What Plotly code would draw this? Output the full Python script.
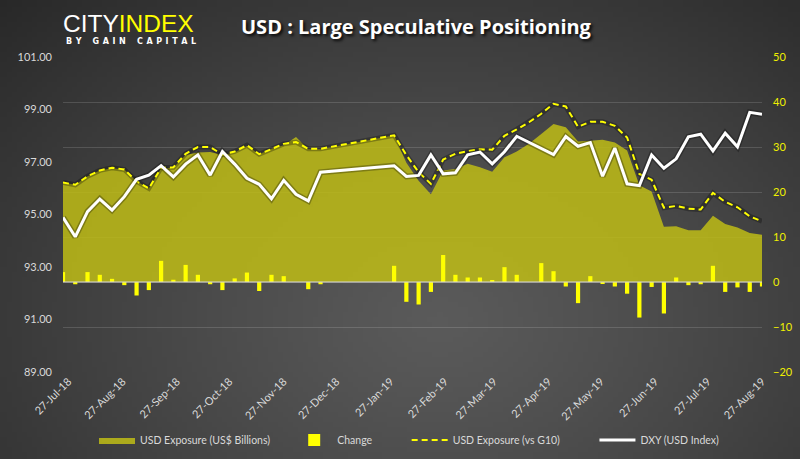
import base64
import math
import struct
import zlib

import pandas as pd
import plotly.graph_objects as go

# ---------------- data ----------------
dates_2018 = pd.date_range("2018-07-24", periods=22, freq="7D")
dates_2019 = pd.date_range("2019-01-29", periods=31, freq="7D")
dates = list(dates_2018.append(dates_2019))

usd_exposure_bn = [
    22.1, 21.6, 23.5, 24.8, 25.3, 25.0, 22.4, 20.8, 25.3, 25.4, 28.2, 28.8,
    28.9, 28.2, 28.8, 30.2, 28.4, 29.6, 30.4, 32.2, 29.5, 29.5,
    32.6, 26.5, 22.5, 19.5, 24.8, 25.1, 26.3, 25.5, 24.5, 27.7, 29.0, 30.7,
    32.9, 35.1, 34.4, 31.2, 31.4, 31.6, 31.0, 29.2, 21.5, 20.1, 12.3, 12.4,
    11.5, 11.5, 14.7, 12.9, 12.1, 10.9, 10.5,
]
change = [
    2.2, -0.5, 2.2, 1.6, 0.7, -0.7, -3.0, -1.8, 4.7, 0.5, 3.8, 1.6,
    -0.5, -1.8, 0.8, 2.1, -2.0, 1.6, 1.3, None, -1.6, -0.5,
    3.6, -4.4, -5.0, -2.2, 6.0, 1.6, 1.0, 1.0, 0.3, 3.3, 1.6, None,
    4.2, 2.4, -1.0, -4.7, 1.3, -0.3, -1.0, -2.6, -7.9, -1.1, -7.0, 1.0,
    -0.7, -0.5, 3.6, -2.2, -1.2, -2.2, -1.0,
]
usd_vs_g10 = [
    22.1, 21.6, 23.5, 24.8, 25.4, 25.0, 22.4, 20.8, 25.4, 25.5, 28.5, 30.0,
    30.0, 28.3, 29.0, 30.4, 28.4, 29.6, 30.7, 31.1, 29.6, 29.6,
    32.6, 28.2, 24.4, 21.8, 27.2, 28.5, 29.1, 29.5, 29.4, 32.5, 33.9, 35.5,
    37.4, 39.6, 39.0, 34.5, 35.6, 35.6, 34.7, 32.1, 24.0, 22.7, 16.5, 16.9,
    16.3, 16.1, 19.8, 17.8, 16.6, 14.6, 13.5,
]
dxy = [
    94.89, 94.15, 95.11, 95.59, 95.17, 95.68, 96.34, 96.50, 96.86, 96.43,
    96.92, 97.27, 96.50, 97.40, 96.92, 96.38, 96.15, 95.60, 96.30, 95.77,
    95.52, 96.61,
    96.86, 96.45, 96.49, 97.27, 96.55, 96.59, 97.27, 97.38, 96.93, 97.39,
    97.98, 97.75, 97.52, 97.28, 97.97, 97.60, 97.74, 96.46, 97.53, 96.17,
    96.10, 97.27, 96.76, 97.12, 97.96, 98.06, 97.42, 98.10, 97.58, 98.89,
    98.82,
]
tick_dates = list(pd.date_range("2018-07-01", periods=14, freq="MS") + pd.Timedelta(days=26))

left_ticks = [89, 91, 93, 95, 97, 99, 101]
right_ticks = [-20, -10, 0, 10, 20, 30, 40, 50]

legend_names = ["USD Exposure (US$ Billions)", "Change", "USD Exposure (vs G10)", "DXY (USD Index)"]


# ---------------- background gradient (pure-python PNG) ----------------
def gradient_png(w=160, h=92):
    raw = bytearray()
    for j in range(h):
        raw.append(0)
        for i in range(w):
            dx = (i / (w - 1) - 0.55) / 0.78
            dy = (j / (h - 1) - 0.70) / 1.0
            d = min(1.0, math.sqrt(dx * dx + dy * dy))
            c = int(round(90 - (90 - 40) * d ** 1.2))
            raw += bytes((c, c, c))

    def chunk(t, data):
        return (struct.pack(">I", len(data)) + t + data
                + struct.pack(">I", zlib.crc32(t + data) & 0xFFFFFFFF))

    png = b"\x89PNG\r\n\x1a\n"
    png += chunk(b"IHDR", struct.pack(">IIBBBBB", w, h, 8, 2, 0, 0, 0))
    png += chunk(b"IDAT", zlib.compress(bytes(raw), 9))
    png += chunk(b"IEND", b"")
    return "data:image/png;base64," + base64.b64encode(png).decode()


W, H = 800, 459
L, R, T, B = 63, 38, 57, 87
pw, ph = W - L - R, H - T - B
NB = "\u00a0"
LG = NB + "\u200a"          # letter gap in tagline
WG = NB * 3 + " "           # word gap in tagline

fig = go.Figure()

fig.add_trace(go.Scatter(
    x=dates, y=usd_exposure_bn, name=legend_names[0] + NB * 6,
    mode="lines", line=dict(width=0, color="rgba(190,188,22,0.88)"),
    fill="tozeroy", fillcolor="rgba(190,188,22,0.86)", yaxis="y",
    hoverinfo="skip",
))
fig.add_trace(go.Bar(
    x=dates, y=change, name=legend_names[1] + NB * 11,
    marker=dict(color="#FFFF00", line=dict(width=0)),
    width=2.4 * 86400000, yaxis="y2",
))
fig.add_trace(go.Scatter(
    x=dates, y=usd_vs_g10, showlegend=False, mode="lines",
    line=dict(width=5, color="rgba(0,0,0,0.28)"), yaxis="y2", hoverinfo="skip",
))
fig.add_trace(go.Scatter(
    x=dates, y=usd_vs_g10, name=legend_names[2] + NB * 11, mode="lines",
    line=dict(width=2, color="#FFFF00", dash="6px,4px"), yaxis="y2",
))
fig.add_trace(go.Scatter(
    x=dates, y=dxy, showlegend=False, mode="lines",
    line=dict(width=6, color="rgba(0,0,0,0.28)"), yaxis="y3", hoverinfo="skip",
))
fig.add_trace(go.Scatter(
    x=dates, y=dxy, name=legend_names[3], mode="lines",
    line=dict(width=3, color="#FFFFFF"), yaxis="y3",
))

tickfont_gray = dict(family="Lato, 'Open Sans', sans-serif", size=11, color="#d9d9d9")

fig.update_layout(
    width=W, height=H,
    margin=dict(l=L, r=R, t=T, b=B, pad=0, autoexpand=False),
    paper_bgcolor="#3c3c3c",
    plot_bgcolor="rgba(0,0,0,0)",
    showlegend=True,
    barmode="overlay",
    xaxis=dict(
        type="date", range=[dates[0], dates[-1]],
        tickvals=tick_dates, tickformat="%d-%b-%y", tickangle=-45,
        tickfont=tickfont_gray, showgrid=False, zeroline=False,
        showline=False, ticks="", automargin=False,
    ),
    yaxis=dict(
        side="right", range=[-20, 50], tickvals=right_ticks,
        tickfont=dict(family="Lato, 'Open Sans', sans-serif", size=11, color="#f0f000"),
        showgrid=True, gridcolor="rgba(255,255,255,0.14)", gridwidth=1,
        zeroline=False, showline=False, ticks="", ticklabelstandoff=10,
        automargin=False,
    ),
    yaxis2=dict(
        overlaying="y", side="right", range=[-20, 50], visible=False,
    ),
    yaxis3=dict(
        overlaying="y", side="left", range=[89, 101], tickvals=left_ticks,
        tickformat=".2f", tickfont=tickfont_gray, showgrid=False,
        zeroline=False, showline=False, ticks="", ticklabelstandoff=10,
        automargin=False,
    ),
    legend=dict(
        orientation="h", x=(94 - L) / pw, xanchor="left", y=-(440 - T - ph) / ph, yanchor="middle",
        font=dict(family="Lato, 'Open Sans', sans-serif", size=10.5, color="#d9d9d9"),
        bgcolor="rgba(0,0,0,0)", itemwidth=36, tracegroupgap=0,
        traceorder="normal",
    ),
    shapes=[dict(
        type="line", xref="paper", x0=0, x1=1, yref="y", y0=0, y1=0,
        line=dict(color="#d8d8d8", width=1.2), layer="above",
    )],
    images=[dict(
        source=gradient_png(), xref="paper", yref="paper",
        x=-L / pw, y=1 + T / ph, sizex=W / pw, sizey=H / ph,
        xanchor="left", yanchor="top", sizing="stretch", layer="below",
    )],
    annotations=[
        dict(
            text="CITY<span style='color:#FFFF00'>INDEX</span>",
            xref="paper", yref="paper", x=(61 - L) / pw, y=1 + (T - 24) / ph,
            xanchor="left", yanchor="middle", showarrow=False,
            font=dict(family="'Liberation Sans', Arial, sans-serif",
                      size=24.5, color="#FFFFFF"),
        ),
        dict(
            text=LG.join("BY") + WG + LG.join("GAIN") + WG + LG.join("CAPITAL"),
            xref="paper", yref="paper", x=(64 - L) / pw, y=1 + (T - 42) / ph,
            xanchor="left", yanchor="middle", showarrow=False,
            font=dict(family="'DejaVu Sans', sans-serif", size=8, color="#FFFFFF",
                      weight="bold"),
        ),
        dict(
            text="USD : Large Speculative Positioning",
            xref="paper", yref="paper", x=(239 - L) / pw, y=1 + (T - 27) / ph,
            xanchor="left", yanchor="middle", showarrow=False,
            font=dict(family="'Open Sans', Lato, sans-serif", size=20, color="#FFFFFF",
                      weight="bold", shadow="2px 2px 3px rgba(0,0,0,0.85)"),
        ),
    ],
)

fig.write_html("out.html")
